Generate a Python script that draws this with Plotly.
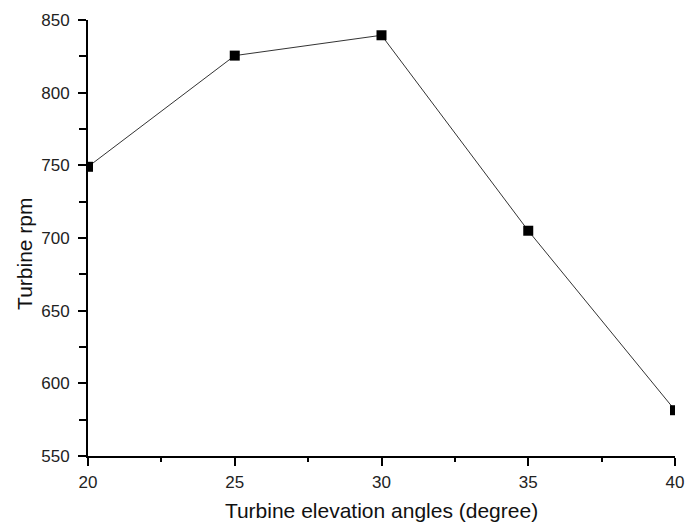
import plotly.graph_objects as go

angles = [20, 25, 30, 35, 40]
rpm = [749, 825.5, 839.5, 705, 581.5]
x_ticks = [20, 25, 30, 35, 40]
y_ticks = [550, 600, 650, 700, 750, 800, 850]

x_title = "Turbine elevation angles (degree)"
y_title = "Turbine rpm"

FONT = "Liberation Sans, Arial, sans-serif"

fig = go.Figure()
fig.add_trace(go.Scatter(
    x=angles, y=rpm, mode="lines+markers",
    line=dict(color="#333333", width=1),
    marker=dict(symbol="square", size=10, color="black"),
    cliponaxis=True,
    showlegend=False,
))

axis_common = dict(
    showline=True, linecolor="black", linewidth=2,
    ticks="outside", ticklen=8, tickwidth=1.5, tickcolor="black",
    showgrid=False, zeroline=False, mirror=False,
    tickfont=dict(family=FONT, size=17, color="#222"),
)

fig.update_xaxes(
    range=[20, 40], tickvals=x_ticks,
    minor=dict(ticks="outside", ticklen=4, tickwidth=1.5, tickcolor="black", dtick=2.5, tick0=20),
    ticklabelstandoff=2,
    title=dict(text=x_title, font=dict(family=FONT, size=21, color="#111"), standoff=12),
    **axis_common,
)
fig.update_yaxes(
    range=[550, 850], tickvals=y_ticks,
    minor=dict(ticks="outside", ticklen=7, tickwidth=1.5, tickcolor="black", dtick=25, tick0=550),
    ticklabelstandoff=5,
    **axis_common,
)

fig.add_annotation(
    text=y_title, textangle=-90, showarrow=False,
    xref="paper", yref="paper", x=-0.107, y=0.464,
    xanchor="center", yanchor="middle",
    font=dict(family=FONT, size=21, color="#111"),
)

fig.update_layout(
    width=695, height=530,
    margin=dict(l=88, r=11, t=16, b=68),
    plot_bgcolor="white", paper_bgcolor="white",
)

fig.write_html(
    "out.html",
    config={"displayModeBar": False},
    post_script="document.body.style.margin='0';document.body.style.overflow='hidden';",
)
